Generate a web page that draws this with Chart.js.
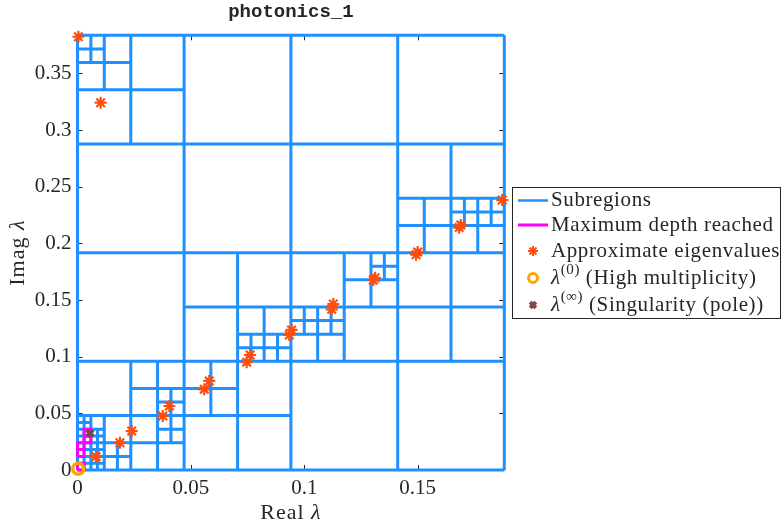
<!DOCTYPE html>
<html>
<head>
<meta charset="utf-8">
<script src="https://cdn.jsdelivr.net/npm/chart.js@4.4.0/dist/chart.umd.min.js"></script>
<style>
  html, body { margin: 0; padding: 0; background: #fff; }
  #wrap { position: relative; width: 782px; height: 527px; }
</style>
</head>
<body>
<div id="wrap"><canvas id="chart" width="782" height="527"></canvas></div>
<script>
// axis limits and ticks
const xMax = 0.1882;
const yMax = 0.3837;
const xTicks = [0, 0.05, 0.1, 0.15];
const yTicks = [0, 0.05, 0.1, 0.15, 0.2, 0.25, 0.3, 0.35];

// subregion edges, horizontal: [y, x0, x1]
const hEdges = [
    [0, 0, 0.1882], [0.3837, 0, 0.1882],
    [0.0959, 0, 0.1882], [0.1918, 0, 0.1882], [0.2878, 0, 0.1882],
    [0.3357, 0, 0.0470], [0.3597, 0, 0.0235], [0.3717, 0, 0.0118],
    [0.2398, 0.1412, 0.1882], [0.2158, 0.1412, 0.1882], [0.2278, 0.1647, 0.1882],
    [0.1679, 0.1176, 0.1412], [0.1799, 0.1294, 0.1412],
    [0.1439, 0.0470, 0.1882], [0.1319, 0.0941, 0.1176],
    [0.1199, 0.0706, 0.1176], [0.1079, 0.0706, 0.0941],
    [0.0720, 0.0235, 0.0706], [0.0600, 0.0353, 0.0470],
    [0.0480, 0, 0.0941], [0.0360, 0.0353, 0.0470], [0.0360, 0, 0.0118],
    [0.0240, 0, 0.0470], [0.0120, 0, 0.0235],
    [0.0060, 0, 0.0118], [0.0180, 0, 0.0118], [0.0300, 0, 0.0118], [0.0420, 0, 0.0059]
];

// subregion edges, vertical: [x, y0, y1]
const vEdges = [
    [0, 0, 0.3837], [0.1882, 0, 0.3837],
    [0.0470, 0, 0.3837], [0.0941, 0, 0.3837], [0.1412, 0, 0.3837],
    [0.0235, 0.2878, 0.3837], [0.0118, 0.3357, 0.3837], [0.0059, 0.3597, 0.3837],
    [0.1647, 0.0959, 0.2878], [0.1529, 0.1918, 0.2398], [0.1765, 0.1918, 0.2398],
    [0.1706, 0.2158, 0.2398], [0.1824, 0.2158, 0.2398],
    [0.1176, 0.0959, 0.1918], [0.1294, 0.1439, 0.1918], [0.1353, 0.1679, 0.1918],
    [0.1059, 0.0959, 0.1439], [0.1000, 0.1199, 0.1439], [0.1118, 0.1199, 0.1439],
    [0.0706, 0, 0.1918], [0.0823, 0.0959, 0.1439], [0.0765, 0.0959, 0.1199], [0.0882, 0.0959, 0.1199],
    [0.0588, 0.0480, 0.0959], [0.0353, 0, 0.0959], [0.0412, 0.0240, 0.0720],
    [0.0235, 0, 0.0959], [0.0118, 0, 0.0480], [0.0176, 0, 0.0240], [0.0059, 0, 0.0480],
    [0.0029, 0, 0.0480], [0.0088, 0, 0.0360]
];

// boxes where the maximum depth was reached: [x0, y0, x1, y1]
const maxDepthBoxes = [
    [0.0029, 0.0300, 0.0059, 0.0360], [0.0029, 0.0240, 0.0059, 0.0300],
    [0, 0.0180, 0.0029, 0.0240], [0, 0.0120, 0.0029, 0.0180], [0, 0, 0.0029, 0.0060]
];

// approximate eigenvalues
const eigReal = [0.0004, 0.0102, 0.0082, 0.0187, 0.0239, 0.0376, 0.0405, 0.0559, 0.0581,
    0.0746, 0.0761, 0.0934, 0.0944, 0.1121, 0.1128, 0.1304, 0.1312, 0.1493, 0.1500,
    0.1683, 0.1690, 0.1873];
const eigImag = [0.3824, 0.3242, 0.0118, 0.0241, 0.0344, 0.0477, 0.0565, 0.0712, 0.0786,
    0.0952, 0.1015, 0.1192, 0.1236, 0.1418, 0.1465, 0.1677, 0.1697, 0.1900, 0.1925,
    0.2140, 0.2162, 0.2383];

const highMultReal = [0.0003];
const highMultImag = [0.0010];
const poleReal = [0.0055];
const poleImag = [0.0324];

const BLUE = '#1E90FF';
const MAGENTA = '#FF00FF';
const STAR = '#FF4D0D';
const RING = '#FFA500';
const POLE = '#7E4646';
const INK = '#262626';

function edgePoints() {
    const pts = [];
    hEdges.forEach(([y, x0, x1]) => {
        pts.push({ x: x0, y }, { x: x1, y }, { x: x1, y: null });
    });
    vEdges.forEach(([x, y0, y1]) => {
        pts.push({ x, y: y0 }, { x, y: y1 }, { x, y: null });
    });
    return pts;
}

function boxPoints() {
    const pts = [];
    maxDepthBoxes.forEach(([x0, y0, x1, y1]) => {
        pts.push({ x: x0, y: y0 }, { x: x1, y: y0 }, { x: x1, y: y1 },
                 { x: x0, y: y1 }, { x: x0, y: y0 }, { x: x0, y: null });
    });
    return pts;
}

const zip = (xs, ys) => xs.map((x, i) => ({ x, y: ys[i] }));

// inward tick marks on all four sides, drawn under the boxes
const tickMarks = {
    id: 'tickMarks',
    beforeDatasetsDraw(chart) {
        const { ctx, chartArea: a, scales: { x, y } } = chart;
        ctx.save();
        ctx.strokeStyle = INK;
        ctx.lineWidth = 1;
        ctx.beginPath();
        xTicks.forEach(v => {
            const px = Math.round(x.getPixelForValue(v)) + 0.5;
            ctx.moveTo(px, a.bottom); ctx.lineTo(px, a.bottom - 5);
            ctx.moveTo(px, a.top); ctx.lineTo(px, a.top + 5);
        });
        yTicks.forEach(v => {
            const py = Math.round(y.getPixelForValue(v)) + 0.5;
            ctx.moveTo(a.left, py); ctx.lineTo(a.left + 5, py);
            ctx.moveTo(a.right, py); ctx.lineTo(a.right - 5, py);
        });
        ctx.stroke();
        ctx.restore();
    }
};

// title, axis labels and the boxed legend
const decorations = {
    id: 'decorations',
    afterDraw(chart) {
        const { ctx, chartArea: a } = chart;
        const serif = 'Liberation Serif';
        ctx.save();
        ctx.fillStyle = INK;
        ctx.textBaseline = 'middle';

        ctx.font = 'bold 19px "Liberation Mono"';
        ctx.textAlign = 'center';
        ctx.fillText('photonics_1', (a.left + a.right) / 2, 12);

        // mixed upright / italic runs, a little letter-spaced like Computer Modern
        let spacing = '0.6px';
        const runs = (parts, x, y) => {
            let cx = x;
            ctx.letterSpacing = spacing;
            parts.forEach(([txt, font, dy]) => {
                ctx.font = font;
                ctx.textAlign = 'left';
                ctx.fillText(txt, cx, y + (dy || 0));
                cx += ctx.measureText(txt).width;
            });
            ctx.letterSpacing = '0px';
            return cx - x;
        };
        const width = parts => {
            ctx.letterSpacing = spacing;
            const w = parts.reduce((s, [txt, font]) => {
                ctx.font = font; return s + ctx.measureText(txt).width;
            }, 0);
            ctx.letterSpacing = '0px';
            return w;
        };

        const up = `21px "${serif}"`;
        const it = `italic 21px "${serif}"`;
        const big = `22px "${serif}"`;
        const bigIt = `italic 22px "${serif}"`;
        const sup = `15px "${serif}"`;

        spacing = '1px';
        const xl = [['Real ', big], ['λ', bigIt]];
        runs(xl, (a.left + a.right) / 2 - width(xl) / 2, 513);

        const yl = [['Imag ', big], ['λ', bigIt]];
        ctx.save();
        ctx.translate(18, (a.top + a.bottom) / 2);
        ctx.rotate(-Math.PI / 2);
        runs(yl, -width(yl) / 2, 0);
        ctx.restore();
        spacing = '0.6px';

        // legend box
        ctx.strokeStyle = INK;
        ctx.lineWidth = 1;
        ctx.fillStyle = '#fff';
        ctx.fillRect(512.5, 187.5, 268, 131);
        ctx.strokeRect(512.5, 187.5, 268, 131);
        ctx.fillStyle = INK;

        const rows = [200.5, 225, 251, 278, 305];
        const sx = 533, tx = 551;
        ctx.lineWidth = 2.5;
        ctx.strokeStyle = BLUE;
        ctx.beginPath(); ctx.moveTo(518, rows[0]); ctx.lineTo(548, rows[0]); ctx.stroke();
        ctx.lineWidth = 3;
        ctx.strokeStyle = MAGENTA;
        ctx.beginPath(); ctx.moveTo(518, rows[1]); ctx.lineTo(548, rows[1]); ctx.stroke();

        const H = Chart.helpers;
        ctx.fillStyle = 'rgba(0,0,0,0)';
        ctx.strokeStyle = STAR; ctx.lineWidth = 2;
        H.drawPoint(ctx, { pointStyle: 'star', radius: 5, borderWidth: 2, rotation: 0 }, sx, rows[2]);
        ctx.strokeStyle = RING; ctx.lineWidth = 3;
        H.drawPoint(ctx, { pointStyle: 'circle', radius: 4.5, borderWidth: 3, rotation: 0 }, sx, rows[3]);
        ctx.strokeStyle = POLE; ctx.lineWidth = 4;
        H.drawPoint(ctx, { pointStyle: 'crossRot', radius: 4, borderWidth: 4, rotation: 0 }, sx, rows[4]);

        ctx.fillStyle = INK;
        runs([['Subregions', up]], tx, rows[0]);
        runs([['Maximum depth reached', up]], tx, rows[1]);
        runs([['Approximate eigenvalues', up]], tx, rows[2]);
        runs([['λ', it], ['(0)', sup, -8], [' (High multiplicity)', up]], tx, rows[3]);
        runs([['λ', it], ['(∞)', sup, -8], [' (Singularity (pole))', up]], tx, rows[4]);
        ctx.restore();
    }
};

new Chart(document.getElementById('chart'), {
    type: 'scatter',
    data: {
        datasets: [
            {
                label: 'Subregions',
                data: edgePoints(),
                showLine: true,
                borderColor: BLUE,
                borderWidth: 3,
                pointRadius: 0,
                clip: false,
                order: 4
            },
            {
                label: 'Maximum depth reached',
                data: boxPoints(),
                showLine: true,
                borderColor: MAGENTA,
                borderWidth: 3,
                pointRadius: 0,
                clip: false,
                order: 3
            },
            {
                label: 'Approximate eigenvalues',
                data: zip(eigReal, eigImag),
                pointStyle: 'star',
                pointRadius: 6,
                borderColor: STAR,
                borderWidth: 2.2,
                clip: false,
                order: 2
            },
            {
                label: 'High multiplicity',
                data: zip(highMultReal, highMultImag),
                pointStyle: 'circle',
                pointRadius: 5.5,
                borderColor: RING,
                backgroundColor: 'rgba(0,0,0,0)',
                borderWidth: 3.5,
                clip: false,
                order: 1
            },
            {
                label: 'Singularity (pole)',
                data: zip(poleReal, poleImag),
                pointStyle: 'crossRot',
                pointRadius: 4.5,
                borderColor: POLE,
                borderWidth: 4,
                clip: false,
                order: 0
            }
        ]
    },
    options: {
        responsive: false,
        animation: false,
        events: [],
        layout: { padding: { left: 0, top: 35.3, right: 277.7, bottom: 0 } },
        plugins: { legend: { display: false }, tooltip: { enabled: false } },
        scales: {
            x: {
                type: 'linear',
                min: 0, max: xMax,
                grid: { display: false, drawTicks: false },
                border: { display: false },
                afterFit: s => { s.height = 57; },
                afterBuildTicks: s => { s.ticks = xTicks.map(v => ({ value: v })); },
                ticks: {
                    padding: 6,
                    color: INK,
                    font: { family: 'Liberation Serif', size: 21 },
                    callback: v => String(+v.toFixed(2))
                }
            },
            y: {
                type: 'linear',
                min: 0, max: yMax,
                grid: { display: false, drawTicks: false },
                border: { display: false },
                afterFit: s => { s.width = 77.5; },
                afterBuildTicks: s => { s.ticks = yTicks.map(v => ({ value: v })); },
                ticks: {
                    padding: 6,
                    color: INK,
                    font: { family: 'Liberation Serif', size: 21 },
                    callback: v => String(+v.toFixed(2))
                }
            }
        }
    },
    plugins: [tickMarks, decorations]
});
</script>
</body>
</html>
